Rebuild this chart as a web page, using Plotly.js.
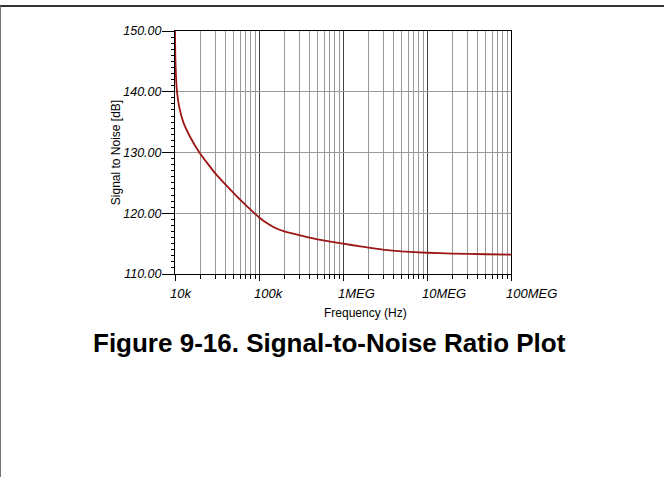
<!DOCTYPE html>
<html>
<head>
<meta charset="utf-8">
<script src="https://cdn.plot.ly/plotly-3.0.1.min.js"></script>
<style>
html,body{margin:0;padding:0;background:#fff;}
#chart{width:664px;height:477px;}
</style>
</head>
<body>
<div id="chart"></div>
<script>
// Data
var freqHz = [1e4, 1.005e4, 1.01e4, 1.028e4, 1.056e4, 1.122e4, 1.255e4, 1.51e4, 1.95e4, 2.5e4, 3e4, 4e4, 5e4, 6e4,
              7e4, 8e4, 9e4, 1e5, 1.2e5, 1.5e5, 2e5, 3e5, 5e5, 1e6, 1.6e6, 2e6, 3e6, 5e6, 1e7, 2e7, 5e7, 1e8];
var snrDb = [150.0, 147.5, 145.5, 142.5, 140.0, 137.5, 135.0, 132.6, 130.0, 128.0, 126.6, 124.7, 123.3, 122.2,
             121.3, 120.55, 119.9, 119.35, 118.5, 117.7, 117.0, 116.4, 115.7, 115.0, 114.55, 114.35, 114.0, 113.72, 113.5, 113.35, 113.25, 113.2];
var xTickVals = [1e4, 1e5, 1e6, 1e7, 1e8];
var xTickText = ['10k', '100k', '1MEG', '10MEG', '100MEG'];
var yTickVals = [110, 120, 130, 140, 150];
var yTickText = ['110.00', '120.00', '130.00', '140.00', '150.00'];
var xTitle = 'Frequency (Hz)';
var yTitle = 'Signal to Noise [dB]';
var caption = 'Figure 9-16. Signal-to-Noise Ratio Plot';

var FONT = '"Liberation Sans", Arial, sans-serif';
var L = 175, R = 511, T = 31, B = 274, W = 664, H = 477;
function px2x(p){ return (p - L) / (R - L); }
function py2y(p){ return (B - p) / (B - T); }

var trace = {
  x: freqHz, y: snrDb, type: 'scatter', mode: 'lines',
  line: {color: '#9c1616', width: 1.8, shape: 'spline', smoothing: 0.3},
  hoverinfo: 'x+y', showlegend: false
};

var layout = {
  width: W, height: H,
  margin: {l: L, r: W - R, t: T, b: H - B, pad: 0},
  paper_bgcolor: '#fff', plot_bgcolor: '#fff',
  font: {family: FONT, color: '#000', size: 12},
  xaxis: {
    type: 'log', range: [4, 8], autorange: false,
    tickmode: 'array', tickvals: xTickVals, ticktext: xTickText,
    ticks: 'outside', ticklen: 6, tickcolor: '#000', tickwidth: 1,
    ticklabelposition: 'outside right', ticklabelshift: -6, ticklabelstandoff: 7,
    tickfont: {family: FONT, size: 13, style: 'italic', color: '#000'},
    showgrid: true, gridcolor: '#444', gridwidth: 1,
    showline: true, linecolor: '#000', linewidth: 1, mirror: true,
    zeroline: false,
    minor: {dtick: 'D1', ticks: 'outside', ticklen: 3.5, tickcolor: '#000', showgrid: true, gridcolor: '#999', gridwidth: 1}
  },
  yaxis: {
    range: [110, 150], autorange: false,
    tickmode: 'array', tickvals: yTickVals, ticktext: yTickText,
    ticks: 'outside', ticklen: 12, tickcolor: '#000', tickwidth: 1,
    ticklabelstandoff: -2,
    tickfont: {family: FONT, size: 12.5, style: 'italic', color: '#000'},
    showgrid: true, gridcolor: '#999', gridwidth: 1,
    showline: true, linecolor: '#000', linewidth: 1, mirror: true,
    zeroline: false,
    minor: {dtick: 1, ticks: 'outside', ticklen: 3, tickcolor: '#000', showgrid: false},
    title: {text: yTitle, font: {family: FONT, size: 12, color: '#000'}, standoff: 0}
  },
  annotations: [
    {text: xTitle, xref: 'paper', yref: 'paper', x: px2x(365), y: py2y(313),
     xanchor: 'center', yanchor: 'middle', showarrow: false,
     font: {family: FONT, size: 12, color: '#000'}},
    {text: '<b>' + caption + '</b>', xref: 'paper', yref: 'paper', x: px2x(329.5), y: py2y(343),
     xanchor: 'center', yanchor: 'middle', showarrow: false,
     font: {family: FONT, size: 26, color: '#000'}}
  ],
  shapes: [
    {type: 'line', xref: 'paper', yref: 'paper', x0: px2x(0), x1: px2x(W), y0: py2y(6), y1: py2y(6),
     line: {color: '#333', width: 2}},
    {type: 'line', xref: 'paper', yref: 'paper', x0: px2x(0.5), x1: px2x(0.5), y0: py2y(6), y1: py2y(H),
     line: {color: '#777', width: 1}}
  ]
};

Plotly.newPlot('chart', [trace], layout, {displayModeBar: false, staticPlot: true});
</script>
</body>
</html>
